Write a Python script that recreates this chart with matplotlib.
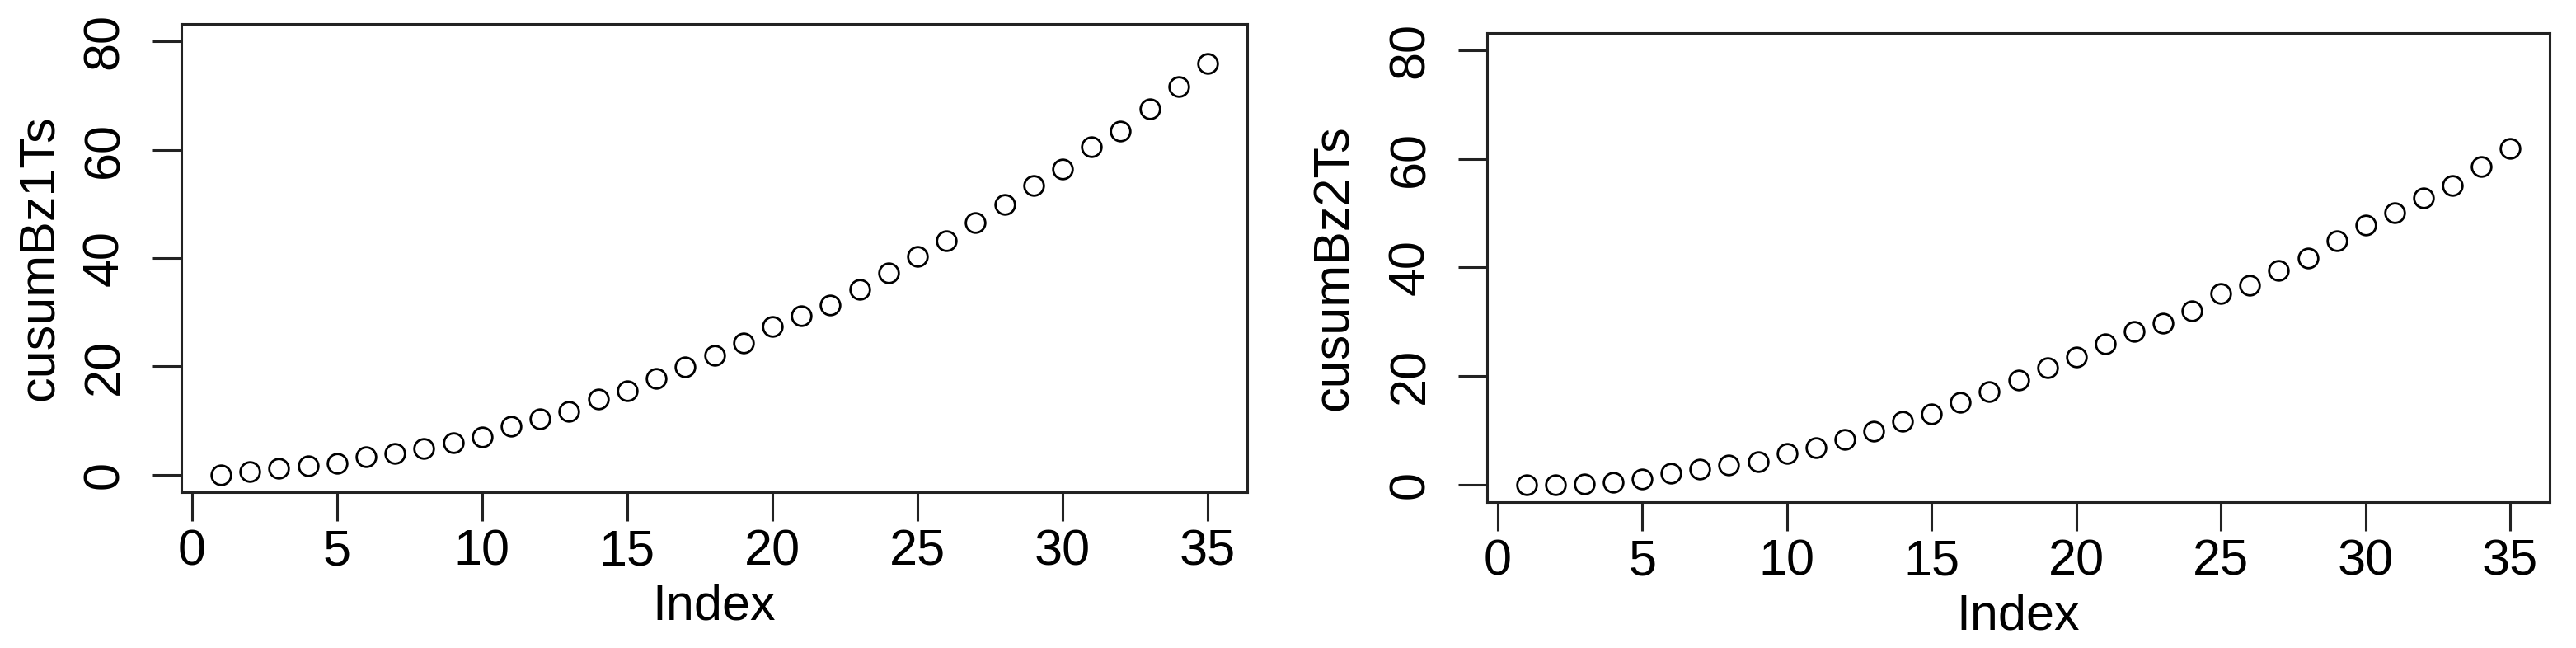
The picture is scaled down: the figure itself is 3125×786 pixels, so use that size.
import matplotlib
matplotlib.use("Agg")
import matplotlib.pyplot as plt
import numpy as np

plt.rcParams['font.family'] = ['Liberation Sans', 'DejaVu Sans']

index = list(range(1, 36))
cusumBz1Ts = [0.0, 0.6, 1.2, 1.7, 2.1, 3.4, 4.0, 4.9, 6.0, 7.0,
              8.9, 10.4, 11.7, 14.0, 15.5, 17.8, 19.9, 22.0, 24.3, 27.3,
              29.3, 31.3, 34.2, 37.3, 40.3, 43.2, 46.5, 49.9, 53.4, 56.4,
              60.6, 63.5, 67.5, 71.7, 75.9]
cusumBz2Ts = [0.0, 0.0, 0.2, 0.4, 1.0, 2.1, 2.8, 3.7, 4.3, 5.8,
              6.8, 8.4, 9.8, 11.7, 13.1, 15.2, 17.1, 19.3, 21.5, 23.6,
              25.9, 28.3, 29.8, 32.1, 35.2, 36.7, 39.4, 41.7, 44.9, 47.8,
              50.1, 52.8, 55.1, 58.6, 62.0]
y_labels = ["cusumBz1Ts", "cusumBz2Ts"]
x_label = "Index"
x_ticks = [0, 5, 10, 15, 20, 25, 30, 35]
y_ticks = [0, 20, 40, 60, 80]

W, H = 3125, 786
fig = plt.figure(figsize=(W / 100, H / 100), dpi=100)

# axes boxes in pixels: left, top, right, bottom
boxes = [(220, 29, 1513, 597), (1804, 40, 3093, 609)]
ylab_pos = [(48.5, 313), (1619.5, 325)]
xlab_base = [752, 763]
series = [cusumBz1Ts, cusumBz2Ts]

FS = 44
for i in range(2):
    l, t, r, b = boxes[i]
    ax = fig.add_axes([l / W, 1 - b / H, (r - l) / W, (b - t) / H])
    ax.plot(index, series[i], linestyle='none', marker='o', markersize=17,
            markerfacecolor='none', markeredgecolor='black', markeredgewidth=2.0)
    x0, x1 = 1, 35
    dx = (x1 - x0) * 0.04
    ax.set_xlim(x0 - dx, x1 + dx)
    ax.set_ylim(0 - 80 * 0.04, 80 + 80 * 0.04)
    ax.set_xticks(x_ticks)
    ax.set_yticks(y_ticks)
    ax.set_xticklabels([str(v) for v in x_ticks])
    ax.set_yticklabels([str(v) for v in y_ticks], rotation=90, va='center')
    for s in ax.spines.values():
        s.set_linewidth(2.2)
        s.set_color('#222222')
    ax.tick_params(axis='both', length=25, width=2.2, color='#222222',
                   labelsize=FS, labelcolor='black')
    ax.tick_params(axis='x', pad=7)
    ax.tick_params(axis='y', pad=21)
    cx = (l + r) / 2
    fig.text(cx / W, 1 - xlab_base[i] / H, x_label, fontsize=FS,
             ha='center', va='baseline')
    yx, yy = ylab_pos[i]
    fig.text(yx / W, 1 - yy / H, y_labels[i], fontsize=FS, rotation=90,
             ha='center', va='center')

fig.savefig("out.png", dpi=100, facecolor='white')
